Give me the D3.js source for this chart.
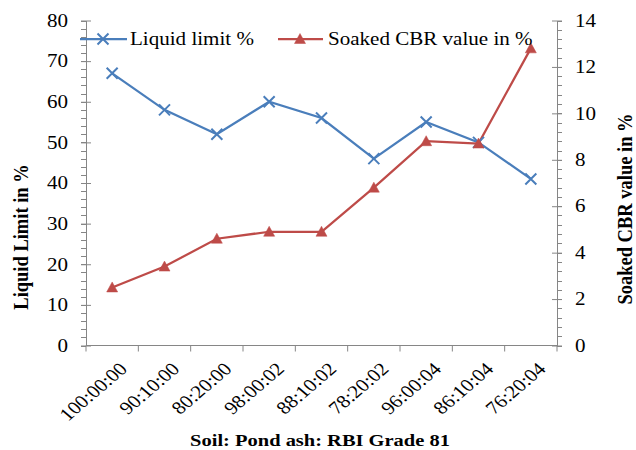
<!DOCTYPE html>
<html><head><meta charset="utf-8">
<script src="https://cdn.jsdelivr.net/npm/d3@7"></script>
<style>
body{margin:0;background:#fff;}
svg text{font-family:"Liberation Serif","Times New Roman",serif;fill:#000;}
</style></head>
<body><svg id="c" width="636" height="450"></svg>
<script>
const categories = ["100:00:00","90:10:00","80:20:00","98:00:02","88:10:02","78:20:02","96:00:04","86:10:04","76:20:04"];
const liquidLimit = [67, 58, 52, 60, 56, 46, 55, 50, 41];
const cbrValue = [2.5, 3.4, 4.6, 4.9, 4.9, 6.8, 8.8, 8.7, 12.8];
const leftTicks = [0,10,20,30,40,50,60,70,80];
const rightTicks = [0,2,4,6,8,10,12,14];
const seriesNames = ["Liquid limit %", "Soaked CBR value in %"];
const axisTitles = ["Liquid Limit in %", "Soaked CBR value in %", "Soil: Pond ash: RBI Grade 81"];

const FONT = '"Liberation Serif","Times New Roman",serif';
const SX = 1.17; // horizontal stretch seen in the reference
const svg = d3.select("#c");
const L = 86, R = 557, T = 20.5, B = 345.5;
const blue = "#4A7EBB", red = "#BE4B48", axisCol = "#868686";

const x = d3.scaleBand().domain(categories).range([L, R]);
const yL = d3.scaleLinear().domain([0, 80]).range([B, T]);
const yR = d3.scaleLinear().domain([0, 14]).range([B, T]);

const styleText = (sel, size, weight) => sel.style("font-family", FONT).style("font-size", size + "px")
  .style("font-weight", weight || "normal").attr("fill", "#000");

// minor ticks
const gMinor = svg.append("g").attr("stroke", axisCol).attr("stroke-width", 1);
gMinor.selectAll(".ml").data(d3.range(0, 80.01, 2)).join("line")
  .attr("x1", L - 5).attr("x2", L).attr("y1", d => Math.round(yL(d)) + 0.5).attr("y2", d => Math.round(yL(d)) + 0.5);
gMinor.selectAll(".mr").data(d3.range(0, 14.01, 0.4)).join("line")
  .attr("x1", R).attr("x2", R + 5).attr("y1", d => Math.round(yR(d)) + 0.5).attr("y2", d => Math.round(yR(d)) + 0.5);

// left axis
const axL = svg.append("g").attr("transform", `translate(${L},0)`)
  .call(d3.axisLeft(yL).tickValues(leftTicks).tickSizeInner(5).tickSizeOuter(0));
axL.selectAll(".tick line").attr("x1", -5).attr("x2", 5);
axL.selectAll(".tick text").attr("x", 0).attr("text-anchor", "end").attr("transform", `translate(-18,0) scale(${SX},1)`);
// right axis
const axR = svg.append("g").attr("transform", `translate(${R},0)`)
  .call(d3.axisRight(yR).tickValues(rightTicks).tickSizeInner(5).tickSizeOuter(0));
axR.selectAll(".tick line").attr("x1", -5).attr("x2", 5);
axR.selectAll(".tick text").attr("x", 0).attr("text-anchor", "start").attr("transform", `translate(18,0) scale(${SX},1)`);
[axL, axR].forEach(a => {
  a.attr("font-family", null);
  a.selectAll("path.domain").attr("stroke", axisCol);
  a.selectAll(".tick line").attr("stroke", axisCol);
  styleText(a.selectAll(".tick text"), 18);
});

// bottom axis
const boundaries = categories.map(c => x(c)).concat([R]);
const axB = svg.append("g");
axB.append("line").attr("x1", L).attr("x2", R).attr("y1", B).attr("y2", B);
axB.selectAll(".bt").data(boundaries).join("line")
  .attr("x1", d => d).attr("x2", d => d).attr("y1", B).attr("y2", B + 6);
axB.selectAll("line").attr("stroke", axisCol);
styleText(axB.selectAll(".bl").data(categories).join("text")
  .attr("transform", c => `translate(${x(c) + x.bandwidth()/2 + 5},${B + 15}) scale(${SX},1) rotate(-45)`)
  .attr("text-anchor", "end").attr("dy", "0.75em").text(c => c), 18);

// lines
const cx = c => x(c) + x.bandwidth() / 2;
const lineL = d3.line().x((d, i) => cx(categories[i])).y(d => yL(d));
const lineR = d3.line().x((d, i) => cx(categories[i])).y(d => yR(d));
svg.append("path").datum(liquidLimit).attr("d", lineL).attr("fill", "none").attr("stroke", blue).attr("stroke-width", 2.25);
svg.append("path").datum(cbrValue).attr("d", lineR).attr("fill", "none").attr("stroke", red).attr("stroke-width", 2.25);

const xMark = (g, px, py) => {
  const s = 5.5;
  g.append("path").attr("d", `M${px-s},${py-s}L${px+s},${py+s}M${px-s},${py+s}L${px+s},${py-s}`)
    .attr("stroke", blue).attr("stroke-width", 2).attr("fill", "none");
};
const triMark = (g, px, py) => {
  g.append("path").attr("d", "M0,-5.5L5.5,4.5L-5.5,4.5Z").attr("transform", `translate(${px},${py})`)
    .attr("fill", red).attr("stroke", red).attr("stroke-width", 0.5);
};
const mg = svg.append("g");
liquidLimit.forEach((v, i) => xMark(mg, cx(categories[i]), yL(v)));
cbrValue.forEach((v, i) => triMark(mg, cx(categories[i]), yR(v)));

// legend
const lg = svg.append("g");
const ly = 39;
lg.append("line").attr("x1", 80).attr("x2", 127).attr("y1", ly).attr("y2", ly).attr("stroke", blue).attr("stroke-width", 2.25);
xMark(lg, 103, ly);
styleText(lg.append("text").attr("transform", `translate(130,${ly}) scale(${SX},1)`).attr("dy", "0.33em").text(seriesNames[0]), 18);
lg.append("line").attr("x1", 278).attr("x2", 323).attr("y1", ly).attr("y2", ly).attr("stroke", red).attr("stroke-width", 2.25);
triMark(lg, 300, ly);
styleText(lg.append("text").attr("transform", `translate(328,${ly}) scale(${SX},1)`).attr("dy", "0.33em").text(seriesNames[1]), 18);

// axis titles
styleText(svg.append("text").attr("transform", `translate(28,237) scale(${SX},1) rotate(-90)`).attr("text-anchor", "middle")
  .text(axisTitles[0]), 18.5, "bold");
styleText(svg.append("text").attr("transform", `translate(632,209) scale(${SX},1) rotate(-90)`).attr("text-anchor", "middle")
  .text(axisTitles[1]), 18.5, "bold");
styleText(svg.append("text").attr("transform", `translate(320,445.5) scale(${SX},1)`).attr("text-anchor", "middle")
  .text(axisTitles[2]), 17.5, "bold");
</script></body></html>
